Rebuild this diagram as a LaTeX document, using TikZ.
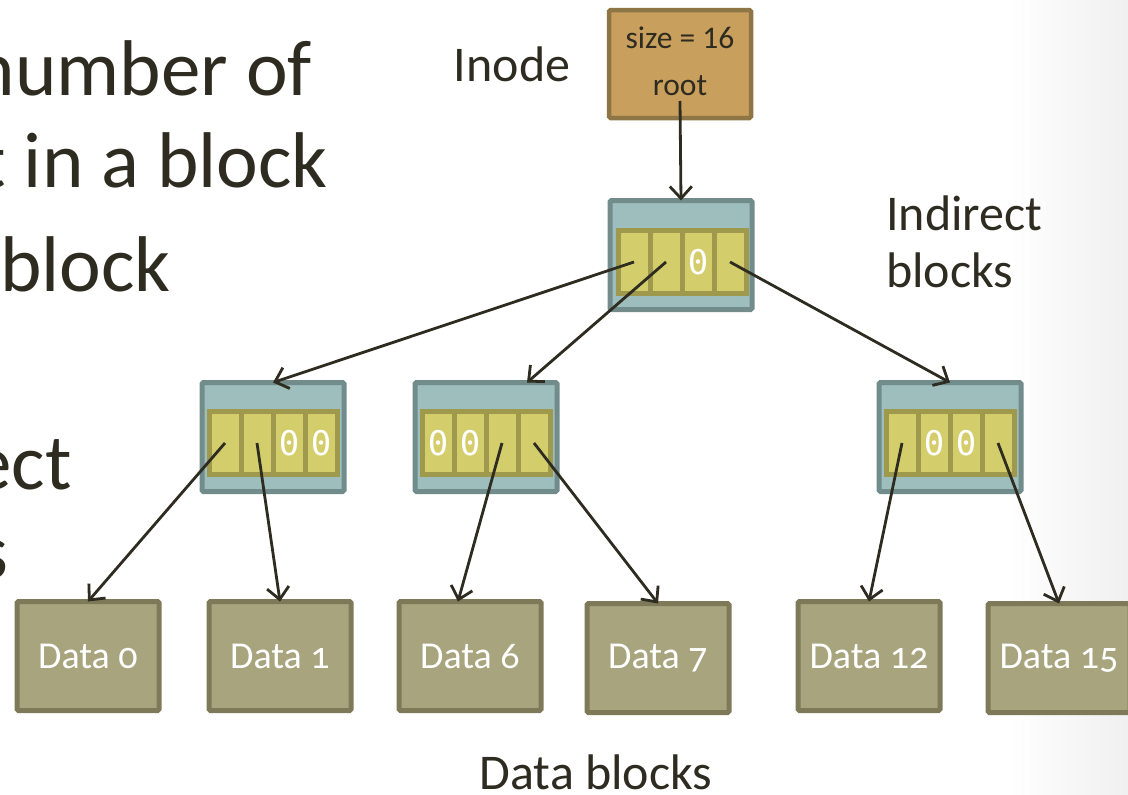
\documentclass[tikz,border=0pt]{standalone}
\usepackage{fontspec}
\setmainfont{Carlito}
\newfontfamily\datafont[Numbers=OldStyle]{Carlito}
\newfontfamily\zerofont{DejaVu Sans Mono}
\usetikzlibrary{arrows.meta}

\definecolor{inkdark}{HTML}{2E2B21}
\definecolor{inodefill}{HTML}{C89F5D}
\definecolor{inodeline}{HTML}{8E7545}
\definecolor{indfill}{HTML}{9DBEBD}
\definecolor{indline}{HTML}{718C8B}
\definecolor{cellfill}{HTML}{D3CD6C}
\definecolor{cellline}{HTML}{9E994C}
\definecolor{datafill}{HTML}{A8A47D}
\definecolor{dataline}{HTML}{7E7A59}

\tikzset{
  inodebox/.style={draw=inodeline, fill=inodefill, line width=4.5pt, rounded corners=1.5pt,
    minimum width=142pt, minimum height=108pt, inner sep=0pt, outer sep=0pt},
  inodetext/.style={align=center, text=inkdark, inner sep=0pt, font=\fontsize{31.5}{47}\selectfont},
  indbox/.style={draw=indline, fill=indfill, line width=5pt, rounded corners=1.5pt,
    minimum width=142pt, minimum height=109pt, inner sep=0pt, outer sep=0pt},
  cellbox/.style={draw=cellline, fill=cellfill, line width=5pt,
    minimum width=32pt, minimum height=63pt, inner sep=0pt, outer sep=0pt},
  zero/.style={text=white, font=\zerofont\fontsize{34}{34}\selectfont, inner sep=0pt},
  databox/.style={draw=dataline, fill=datafill, line width=5pt, rounded corners=1.5pt,
    minimum width=142pt, minimum height=109pt, inner sep=0pt, outer sep=0pt,
    text=white, font=\datafont\fontsize{38}{38}\selectfont},
  heading/.style={text=inkdark, font=\fontsize{50}{57}\selectfont, inner sep=0pt},
  bigtext/.style={text=inkdark, font=\fontsize{79}{79}\selectfont, inner sep=0pt, anchor=base east},
  ptr/.style={draw=inkdark, line width=2.8pt, -{Straight Barb[length=12pt,width=22pt]}}
}

\begin{document}
\begin{tikzpicture}[x=1pt,y=-1pt]
\useasboundingbox (0,0) rectangle (1128,795);
\clip (0,0) rectangle (1128,795);
\shade[left color=white, right color=black!6] (1010,0) rectangle (1128,795);

% slide text, cut at the left edge
\node[bigtext] (txa) at (312,95) {number of};
\node[bigtext] (txb) at (328,187) {t in a block};
\node[bigtext] (txc) at (171,291) {block};
\node[bigtext] (txd) at (72,489) {ect};
\node[bigtext] (txe) at (9,578) {s};

% inode
\node[inodebox] (inode) at (680,64) {};
\node[inodetext] (inodetxt) at ([yshift=3pt]inode.center) {size = 16\\root};
\node[heading] (inodelbl) at (512,64) {Inode};

% indirect blocks
\node[indbox] (r) at (681,255) {};
\node[indbox] (a) at (273,437) {};
\node[indbox] (b) at (486,437) {};
\node[indbox] (c) at (950,437) {};
\foreach \blk/\cx/\cy in {r/682/262, a/273/443, b/486/443, c/950/443}
  \foreach \i/\dx in {1/-48, 2/-16, 3/16, 4/48}
    \node[cellbox] (\blk\i) at (\cx+\dx,\cy) {};
\node[zero] (zr3) at (r3) {0};
\node[zero] (za3) at (a3) {0};
\node[zero] (za4) at (a4) {0};
\node[zero] (zb1) at (b1) {0};
\node[zero] (zb2) at (b2) {0};
\node[zero] (zc2) at (c2) {0};
\node[zero] (zc3) at (c3) {0};
\node[heading, align=left, anchor=west] (indlbl) at (886,242) {Indirect\\blocks};

% data blocks
\node[databox] (d0) at (88,656) {Data 0};
\node[databox] (d1) at (280,656) {Data 1};
\node[databox] (d6) at (470,656) {Data 6};
\node[databox] (d7) at (658,658) {Data 7};
\node[databox] (d12) at (869,656) {Data 12};
\node[databox] (d15) at (1059,658) {Data 15};
\node[heading, anchor=base] (datalbl) at (596,789) {Data blocks};

% pointers
\draw[ptr] ([yshift=17pt]inode.south) -- (r.north);
\draw[ptr] (r1.center) -- (a.north);
\draw[ptr] (r2.center) -- ([xshift=41pt]b.north);
\draw[ptr] (r4.center) -- (c.north);
\draw[ptr] (a1.center) -- (d0.north);
\draw[ptr] (a2.center) -- (d1.north);
\draw[ptr] (b3.center) -- ([xshift=-12pt]d6.north);
\draw[ptr] (b4.center) -- (d7.north);
\draw[ptr] (c1.center) -- (d12.north);
\draw[ptr] (c4.center) -- (d15.north);
\end{tikzpicture}
\end{document}
